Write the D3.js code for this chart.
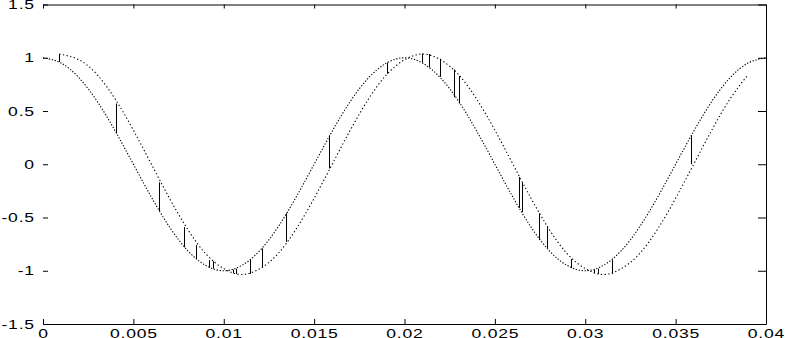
<!DOCTYPE html>
<html lang="en">
<head>
  <meta charset="UTF-8">
  <title>delayed cosine</title>
  <script src="https://cdn.jsdelivr.net/npm/d3@7"></script>
  <style>
    body { margin: 0; background: #fff; }
  </style>
</head>
<body>
<svg></svg>
<script>
  const width = 788, height = 338

  // reference signal (dotted, leading curve)
  const refTime = [0, 0.001, 0.002, 0.003, 0.004, 0.005, 0.006, 0.007, 0.008, 0.009,
    0.010, 0.011, 0.012, 0.013, 0.014, 0.015, 0.016, 0.017, 0.018, 0.019,
    0.020, 0.021, 0.022, 0.023, 0.024, 0.025, 0.026, 0.027, 0.028, 0.029,
    0.030, 0.031, 0.032, 0.033, 0.034, 0.035, 0.036, 0.037, 0.038, 0.039, 0.040]
  const refValue = [1, 0.95, 0.81, 0.59, 0.31, 0, -0.31, -0.59, -0.81, -0.95,
    -1, -0.95, -0.81, -0.59, -0.31, 0, 0.31, 0.59, 0.81, 0.95,
    1, 0.95, 0.81, 0.59, 0.31, 0, -0.31, -0.59, -0.81, -0.95,
    -1, -0.95, -0.81, -0.59, -0.31, 0, 0.31, 0.59, 0.81, 0.95, 1]

  // delayed signal (lagging curve)
  const delayTime = [0.0009, 0.002, 0.003, 0.004, 0.005, 0.006, 0.007, 0.008, 0.009,
    0.010, 0.011, 0.012, 0.013, 0.014, 0.015, 0.016, 0.017, 0.018, 0.019,
    0.020, 0.021, 0.022, 0.023, 0.024, 0.025, 0.026, 0.027, 0.028, 0.029,
    0.030, 0.031, 0.032, 0.033, 0.034, 0.035, 0.036, 0.037, 0.038, 0.039]
  const delayValue = [1.035, 0.98, 0.84, 0.61, 0.32, 0, -0.32, -0.61, -0.84,
    -0.98, -1.035, -0.98, -0.84, -0.61, -0.32, 0, 0.32, 0.61, 0.84,
    0.98, 1.035, 0.98, 0.84, 0.61, 0.32, 0, -0.32, -0.61, -0.84,
    -0.98, -1.035, -0.98, -0.84, -0.61, -0.32, 0, 0.32, 0.61, 0.84]

  // vertical jumps between the two curves
  const stemTime = [0.00089, 0.00406, 0.00644, 0.00782, 0.00849, 0.00921, 0.00941,
    0.01049, 0.01068, 0.01145, 0.01209, 0.01345, 0.01582, 0.01902, 0.02095, 0.02137,
    0.02194, 0.02276, 0.02303, 0.02634, 0.02649, 0.02745, 0.02786, 0.02922,
    0.03049, 0.03068, 0.03146, 0.03585]
  const stemRef = [0.96, 0.29, -0.44, -0.78, -0.89, -0.97, -0.98,
    -0.99, -0.98, -0.89, -0.79, -0.46, 0.27, 0.955, 0.955, 0.91,
    0.82, 0.63, 0.57, -0.41, -0.45, -0.71, -0.79, -0.975,
    -0.99, -0.98, -0.9, 0.27]
  const stemDelay = [1.035, 0.57, -0.17, -0.59, -0.76, -0.9, -0.91,
    -1.025, -1.03, -1.03, -0.97, -0.73, -0.04, 0.85, 1.04, 1.035,
    0.99, 0.89, 0.83, -0.12, -0.17, -0.46, -0.58, -0.89,
    -1.025, -1.03, -1.03, 0]

  const xTicks = [0, 0.005, 0.01, 0.015, 0.02, 0.025, 0.03, 0.035, 0.04]
  const xTickLabels = ['0', '0.005', '0.01', '0.015', '0.02', '0.025', '0.03', '0.035', '0.04']
  const yTicks = [-1.5, -1, -0.5, 0, 0.5, 1, 1.5]
  const yTickLabels = ['-1.5', '-1', '-0.5', '0', '0.5', '1', '1.5']

  const svg = d3.select('svg')
      .attr('width', width)
      .attr('height', height)
      .style('display', 'block')
      .style('background', '#fff')

  const x = d3.scaleLinear().domain([0, 0.04]).range([43, 766])
  const y = d3.scaleLinear().domain([-1.5, 1.5]).range([324, 4.5])

  const styleAxis = (g, hideText) => {
    g.selectAll('line').attr('stroke', '#000')
    g.select('.domain').attr('stroke', '#000')
    g.selectAll('text')
        .attr('fill', '#000')
        .style('font-family', '"Liberation Sans", Arial, sans-serif')
        .style('font-size', '13px')
        .style('letter-spacing', '0.6px')
        .attr('transform', 'scale(1.35,1)')
    if (hideText) g.selectAll('text').remove()
  }

  // left: ticks + labels, no spine
  svg.append('g')
      .attr('transform', `translate(${x(0)},0)`)
      .call(d3.axisLeft(y).tickValues(yTicks).tickFormat((d, i) => yTickLabels[i])
          .tickSize(-5).tickSizeOuter(0).tickPadding(6))
      .call(g => g.select('.domain').remove())
      .call(g => styleAxis(g, false))

  svg.append('g')
      .attr('transform', `translate(0,${y(-1.5)})`)
      .call(d3.axisBottom(x).tickValues(xTicks).tickFormat((d, i) => xTickLabels[i])
          .tickSize(-5).tickSizeOuter(0).tickPadding(5))
      .call(g => styleAxis(g, false))

  svg.append('g')
      .attr('transform', `translate(0,${y(1.5)})`)
      .call(d3.axisTop(x).tickValues(xTicks).tickSize(-4).tickSizeOuter(0))
      .call(g => styleAxis(g, true))

  svg.append('g')
      .attr('transform', `translate(${x(0.04)},0)`)
      .call(d3.axisRight(y).tickValues(yTicks).tickSize(-8).tickSizeOuter(0))
      .call(g => styleAxis(g, true))

  const line = d3.line()
      .x(d => x(d[0]))
      .y(d => y(d[1]))
      .curve(d3.curveNatural)

  svg.append('path')
      .datum(refTime.map((t, i) => [t, refValue[i]]))
      .attr('fill', 'none')
      .attr('stroke', '#000')
      .attr('stroke-width', 1.1)
      .attr('stroke-dasharray', '1.3,1.7')
      .attr('d', line)

  svg.append('path')
      .datum(delayTime.map((t, i) => [t, delayValue[i]]))
      .attr('fill', 'none')
      .attr('stroke', '#000')
      .attr('stroke-width', 1.1)
      .attr('stroke-dasharray', '1.3,2.4')
      .attr('d', line)

  svg.append('g')
      .selectAll('line')
      .data(stemTime.map((t, i) => ({t, a: stemRef[i], b: stemDelay[i]})))
      .join('line')
      .attr('x1', d => Math.round(x(d.t)) + 0.5)
      .attr('x2', d => Math.round(x(d.t)) + 0.5)
      .attr('y1', d => y(d.a))
      .attr('y2', d => y(d.b))
      .attr('stroke', '#000')
      .attr('stroke-width', 1)
</script>
</body>
</html>
